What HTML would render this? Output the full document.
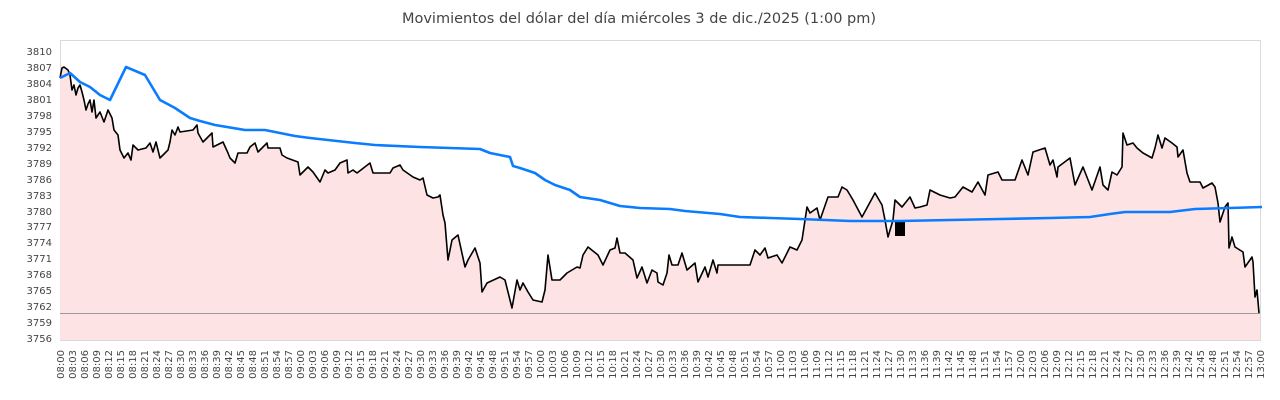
<!DOCTYPE html>
<html><head><meta charset="utf-8"><style>
html,body{margin:0;padding:0;background:#fff;}
svg{display:block;font-family:"DejaVu Sans","Liberation Sans",sans-serif;}
</style></head><body>
<svg width="1280" height="400" viewBox="0 0 1280 400">
<text x="639" y="23" text-anchor="middle" font-size="14.5" fill="#444">Movimientos del dólar del día miércoles 3 de dic./2025 (1:00 pm)</text>
<rect x="60.5" y="40.5" width="1200" height="300" fill="#fff" stroke="#d9d9d9"/>
<polygon fill="#fde3e3" points="60,340 60,78 62,68 64,67 68,70 70,75 72,90 74,85 76,95 78,88 80,85 82,92 84,100 86,110 88,104 90,100 92,112 94,100 96,118 100,112 104,122 108,110 112,118 114,130 118,135 120,150 124,158 128,153 131,160 133,145 138,150 146,148 150,143 153,152 156,142 160,158 168,150 170,142 172,130 175,135 178,127 180,132 193,130 197,125 198,133 203,142 212,133 213,147 223,142 228,153 230,158 235,163 238,153 247,153 250,147 255,143 258,152 267,143 268,148 280,148 282,155 287,158 298,162 300,175 308,167 313,172 320,182 325,170 328,173 335,170 340,163 347,160 348,173 353,170 357,173 370,163 373,173 380,173 390,173 393,168 400,165 403,170 413,177 420,180 423,178 427,195 433,198 438,197 440,195 443,215 445,223 448,260 452,240 458,235 465,267 468,260 475,248 480,263 482,292 487,283 500,277 505,280 510,300 512,308 517,280 520,290 523,283 528,292 533,300 542,302 545,290 548,255 552,280 560,280 567,273 577,267 580,268 583,255 588,247 598,255 603,265 610,250 615,248 617,238 620,253 625,253 633,260 637,278 642,267 647,283 652,270 657,273 658,282 663,285 667,273 669,255 672,265 678,265 682,253 687,270 695,263 698,282 705,267 708,277 713,260 717,273 718,265 730,265 750,265 755,250 760,255 765,248 768,258 777,255 782,263 790,247 797,250 802,240 807,207 810,213 817,208 820,220 828,197 838,197 842,187 847,190 853,200 862,217 875,193 882,205 885,220 888,237 893,220 895,200 902,207 910,197 915,208 920,207 927,205 930,190 940,195 950,198 955,197 963,187 972,192 978,182 985,195 988,175 998,172 1002,180 1015,180 1022,160 1028,175 1033,152 1045,148 1050,165 1053,160 1057,177 1058,167 1070,158 1075,185 1083,167 1092,190 1100,167 1103,185 1108,190 1112,172 1117,175 1122,167 1123,133 1127,145 1133,143 1137,148 1143,153 1152,158 1155,148 1158,135 1162,148 1165,138 1172,143 1177,147 1178,157 1183,150 1187,173 1190,182 1200,182 1203,188 1212,183 1215,187 1218,203 1220,222 1225,207 1228,203 1229,248 1232,237 1235,247 1243,252 1245,267 1252,257 1253,262 1255,297 1257,290 1259,313 1260,313 1260,340"/>
<line x1="60" y1="313.5" x2="1260" y2="313.5" stroke="#999" stroke-width="1"/>
<polyline fill="none" stroke="#000" stroke-width="1.6" stroke-linejoin="round" points="60,78 62,68 64,67 68,70 70,75 72,90 74,85 76,95 78,88 80,85 82,92 84,100 86,110 88,104 90,100 92,112 94,100 96,118 100,112 104,122 108,110 112,118 114,130 118,135 120,150 124,158 128,153 131,160 133,145 138,150 146,148 150,143 153,152 156,142 160,158 168,150 170,142 172,130 175,135 178,127 180,132 193,130 197,125 198,133 203,142 212,133 213,147 223,142 228,153 230,158 235,163 238,153 247,153 250,147 255,143 258,152 267,143 268,148 280,148 282,155 287,158 298,162 300,175 308,167 313,172 320,182 325,170 328,173 335,170 340,163 347,160 348,173 353,170 357,173 370,163 373,173 380,173 390,173 393,168 400,165 403,170 413,177 420,180 423,178 427,195 433,198 438,197 440,195 443,215 445,223 448,260 452,240 458,235 465,267 468,260 475,248 480,263 482,292 487,283 500,277 505,280 510,300 512,308 517,280 520,290 523,283 528,292 533,300 542,302 545,290 548,255 552,280 560,280 567,273 577,267 580,268 583,255 588,247 598,255 603,265 610,250 615,248 617,238 620,253 625,253 633,260 637,278 642,267 647,283 652,270 657,273 658,282 663,285 667,273 669,255 672,265 678,265 682,253 687,270 695,263 698,282 705,267 708,277 713,260 717,273 718,265 730,265 750,265 755,250 760,255 765,248 768,258 777,255 782,263 790,247 797,250 802,240 807,207 810,213 817,208 820,220 828,197 838,197 842,187 847,190 853,200 862,217 875,193 882,205 885,220 888,237 893,220 895,200 902,207 910,197 915,208 920,207 927,205 930,190 940,195 950,198 955,197 963,187 972,192 978,182 985,195 988,175 998,172 1002,180 1015,180 1022,160 1028,175 1033,152 1045,148 1050,165 1053,160 1057,177 1058,167 1070,158 1075,185 1083,167 1092,190 1100,167 1103,185 1108,190 1112,172 1117,175 1122,167 1123,133 1127,145 1133,143 1137,148 1143,153 1152,158 1155,148 1158,135 1162,148 1165,138 1172,143 1177,147 1178,157 1183,150 1187,173 1190,182 1200,182 1203,188 1212,183 1215,187 1218,203 1220,222 1225,207 1228,203 1229,248 1232,237 1235,247 1243,252 1245,267 1252,257 1253,262 1255,297 1257,290 1259,313"/>
<rect x="895" y="222" width="10" height="14" fill="#000"/>
<polyline fill="none" stroke="#0a7cff" stroke-width="2.6" stroke-linejoin="round" points="60,78 70,73 80,82 90,87 100,95 110,100 126,67 145,75 160,100 175,108 190,118 200,121 215,125 245,130 265,130 295,136 310,138 355,143 375,145 420,147 480,149 490,153 510,157 513,166 520,168 535,173 545,180 555,185 570,190 580,197 600,200 620,206 640,208 670,209 685,211 720,214 740,217 770,218 800,219 850,221 900,221 950,220 1000,219 1050,218 1090,217 1110,214 1125,212 1170,212 1195,209 1230,208 1262,207"/>
<g font-size="10" fill="#444" text-anchor="end">
<text x="52" y="55">3810</text><text x="52" y="71">3807</text><text x="52" y="87">3804</text><text x="52" y="103">3801</text><text x="52" y="119">3798</text><text x="52" y="135">3795</text><text x="52" y="151">3792</text><text x="52" y="167">3789</text><text x="52" y="183">3786</text><text x="52" y="199">3783</text><text x="52" y="215">3780</text><text x="52" y="230">3777</text><text x="52" y="246">3774</text><text x="52" y="262">3771</text><text x="52" y="278">3768</text><text x="52" y="294">3765</text><text x="52" y="310">3762</text><text x="52" y="326">3759</text><text x="52" y="342">3756</text>
</g>
<g font-size="10" fill="#444" text-anchor="end">
<text transform="translate(64,350) rotate(-90)">08:00</text><text transform="translate(76,350) rotate(-90)">08:03</text><text transform="translate(88,350) rotate(-90)">08:06</text><text transform="translate(100,350) rotate(-90)">08:09</text><text transform="translate(112,350) rotate(-90)">08:12</text><text transform="translate(124,350) rotate(-90)">08:15</text><text transform="translate(136,350) rotate(-90)">08:18</text><text transform="translate(148,350) rotate(-90)">08:21</text><text transform="translate(160,350) rotate(-90)">08:24</text><text transform="translate(172,350) rotate(-90)">08:27</text>
<text transform="translate(184,350) rotate(-90)">08:30</text><text transform="translate(196,350) rotate(-90)">08:33</text><text transform="translate(208,350) rotate(-90)">08:36</text><text transform="translate(220,350) rotate(-90)">08:39</text><text transform="translate(232,350) rotate(-90)">08:42</text><text transform="translate(244,350) rotate(-90)">08:45</text><text transform="translate(256,350) rotate(-90)">08:48</text><text transform="translate(268,350) rotate(-90)">08:51</text><text transform="translate(280,350) rotate(-90)">08:54</text><text transform="translate(292,350) rotate(-90)">08:57</text>
<text transform="translate(304,350) rotate(-90)">09:00</text><text transform="translate(316,350) rotate(-90)">09:03</text><text transform="translate(328,350) rotate(-90)">09:06</text><text transform="translate(340,350) rotate(-90)">09:09</text><text transform="translate(352,350) rotate(-90)">09:12</text><text transform="translate(364,350) rotate(-90)">09:15</text><text transform="translate(376,350) rotate(-90)">09:18</text><text transform="translate(388,350) rotate(-90)">09:21</text><text transform="translate(400,350) rotate(-90)">09:24</text><text transform="translate(412,350) rotate(-90)">09:27</text>
<text transform="translate(424,350) rotate(-90)">09:30</text><text transform="translate(436,350) rotate(-90)">09:33</text><text transform="translate(448,350) rotate(-90)">09:36</text><text transform="translate(460,350) rotate(-90)">09:39</text><text transform="translate(472,350) rotate(-90)">09:42</text><text transform="translate(484,350) rotate(-90)">09:45</text><text transform="translate(496,350) rotate(-90)">09:48</text><text transform="translate(508,350) rotate(-90)">09:51</text><text transform="translate(520,350) rotate(-90)">09:54</text><text transform="translate(532,350) rotate(-90)">09:57</text>
<text transform="translate(544,350) rotate(-90)">10:00</text><text transform="translate(556,350) rotate(-90)">10:03</text><text transform="translate(568,350) rotate(-90)">10:06</text><text transform="translate(580,350) rotate(-90)">10:09</text><text transform="translate(592,350) rotate(-90)">10:12</text><text transform="translate(604,350) rotate(-90)">10:15</text><text transform="translate(616,350) rotate(-90)">10:18</text><text transform="translate(628,350) rotate(-90)">10:21</text><text transform="translate(640,350) rotate(-90)">10:24</text><text transform="translate(652,350) rotate(-90)">10:27</text>
<text transform="translate(664,350) rotate(-90)">10:30</text><text transform="translate(676,350) rotate(-90)">10:33</text><text transform="translate(688,350) rotate(-90)">10:36</text><text transform="translate(700,350) rotate(-90)">10:39</text><text transform="translate(712,350) rotate(-90)">10:42</text><text transform="translate(724,350) rotate(-90)">10:45</text><text transform="translate(736,350) rotate(-90)">10:48</text><text transform="translate(748,350) rotate(-90)">10:51</text><text transform="translate(760,350) rotate(-90)">10:54</text><text transform="translate(772,350) rotate(-90)">10:57</text>
<text transform="translate(784,350) rotate(-90)">11:00</text><text transform="translate(796,350) rotate(-90)">11:03</text><text transform="translate(808,350) rotate(-90)">11:06</text><text transform="translate(820,350) rotate(-90)">11:09</text><text transform="translate(832,350) rotate(-90)">11:12</text><text transform="translate(844,350) rotate(-90)">11:15</text><text transform="translate(856,350) rotate(-90)">11:18</text><text transform="translate(868,350) rotate(-90)">11:21</text><text transform="translate(880,350) rotate(-90)">11:24</text><text transform="translate(892,350) rotate(-90)">11:27</text>
<text transform="translate(904,350) rotate(-90)">11:30</text><text transform="translate(916,350) rotate(-90)">11:33</text><text transform="translate(928,350) rotate(-90)">11:36</text><text transform="translate(940,350) rotate(-90)">11:39</text><text transform="translate(952,350) rotate(-90)">11:42</text><text transform="translate(964,350) rotate(-90)">11:45</text><text transform="translate(976,350) rotate(-90)">11:48</text><text transform="translate(988,350) rotate(-90)">11:51</text><text transform="translate(1000,350) rotate(-90)">11:54</text><text transform="translate(1012,350) rotate(-90)">11:57</text>
<text transform="translate(1024,350) rotate(-90)">12:00</text><text transform="translate(1036,350) rotate(-90)">12:03</text><text transform="translate(1048,350) rotate(-90)">12:06</text><text transform="translate(1060,350) rotate(-90)">12:09</text><text transform="translate(1072,350) rotate(-90)">12:12</text><text transform="translate(1084,350) rotate(-90)">12:15</text><text transform="translate(1096,350) rotate(-90)">12:18</text><text transform="translate(1108,350) rotate(-90)">12:21</text><text transform="translate(1120,350) rotate(-90)">12:24</text><text transform="translate(1132,350) rotate(-90)">12:27</text>
<text transform="translate(1144,350) rotate(-90)">12:30</text><text transform="translate(1156,350) rotate(-90)">12:33</text><text transform="translate(1168,350) rotate(-90)">12:36</text><text transform="translate(1180,350) rotate(-90)">12:39</text><text transform="translate(1192,350) rotate(-90)">12:42</text><text transform="translate(1204,350) rotate(-90)">12:45</text><text transform="translate(1216,350) rotate(-90)">12:48</text><text transform="translate(1228,350) rotate(-90)">12:51</text><text transform="translate(1240,350) rotate(-90)">12:54</text><text transform="translate(1252,350) rotate(-90)">12:57</text>
<text transform="translate(1264,350) rotate(-90)">13:00</text>
</g>
</svg>
</body></html>
